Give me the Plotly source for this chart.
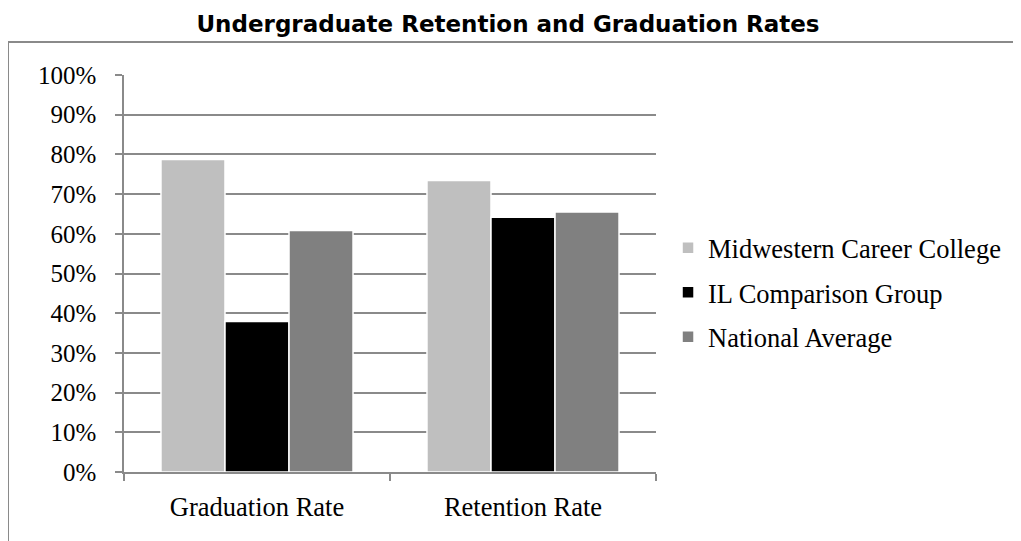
import plotly.graph_objects as go

categories = ["Graduation Rate", "Retention Rate"]
series_names = ["Midwestern Career College", "IL Comparison Group", "National Average"]
mcc = [78.7, 73.4]
il_group = [37.9, 64.2]
national = [60.8, 65.5]
colors = ["#bfbfbf", "#000000", "#808080"]
y_ticks = list(range(0, 101, 10))

SERIF = "Liberation Serif"
L, T, PW, PH = 116, 67, 532, 397
positions = list(range(len(categories)))
fig = go.Figure()
for i, (name, vals) in enumerate(zip(series_names, [mcc, il_group, national])):
    fig.add_trace(go.Bar(
        x=positions, y=vals, name=name, legendgroup=name,
        marker=dict(color=colors[i], line=dict(color="white", width=1.5)),
    ))

fig.update_layout(
    width=1021, height=541,
    paper_bgcolor="white", plot_bgcolor="white",
    margin=dict(l=L, r=1021 - L - PW, t=T, b=541 - T - PH),
    barmode="group", bargap=0.278, bargroupgap=0,
    title=dict(text="<b>Undergraduate Retention and Graduation Rates</b>",
               x=(508 - 8) / 1021, xanchor="center", y=1 - (24 - 8) / 541, yanchor="middle",
               font=dict(family="DejaVu Sans", size=23, color="black")),
    font=dict(family=SERIF, size=25, color="black"),
    legend=dict(x=1.0226, xanchor="left", y=0.452, yanchor="middle",
                font=dict(family=SERIF, size=26.5, color="black"),
                tracegroupgap=7, itemwidth=30),
    xaxis=dict(range=[-0.5, len(categories) - 0.5], tickvals=positions, ticktext=categories,
               ticks="", showline=True, linecolor="#8a8a8a", linewidth=1.5,
               showgrid=False, zeroline=False, ticklabelstandoff=10,
               minor=dict(tickvals=[p - 0.5 for p in positions] + [positions[-1] + 0.5],
                          ticks="outside", ticklen=7, tickcolor="#8a8a8a", tickwidth=1.5,
                          showgrid=False),
               tickfont=dict(family=SERIF, size=26.5)),
    yaxis=dict(range=[0, 100], tickvals=y_ticks, ticktext=[f"{v}%" for v in y_ticks],
               ticks="outside", ticklen=7, tickcolor="#8a8a8a", tickwidth=1.5,
               showline=True, linecolor="#8a8a8a", linewidth=1.5,
               showgrid=True, gridcolor="#8a8a8a", gridwidth=1.5, zeroline=False,
               ticklabelstandoff=14, tickfont=dict(family=SERIF, size=25)),
    showlegend=True,
)
fig.add_shape(type="rect", xref="paper", yref="paper",
              x0=(7 - 123) / PW, x1=2.0, y0=-0.3, y1=1 + (74 - 41) / PH,
              line=dict(color="#8a8a8a", width=2), fillcolor="rgba(0,0,0,0)", layer="below")

fig.write_html("out.html")
